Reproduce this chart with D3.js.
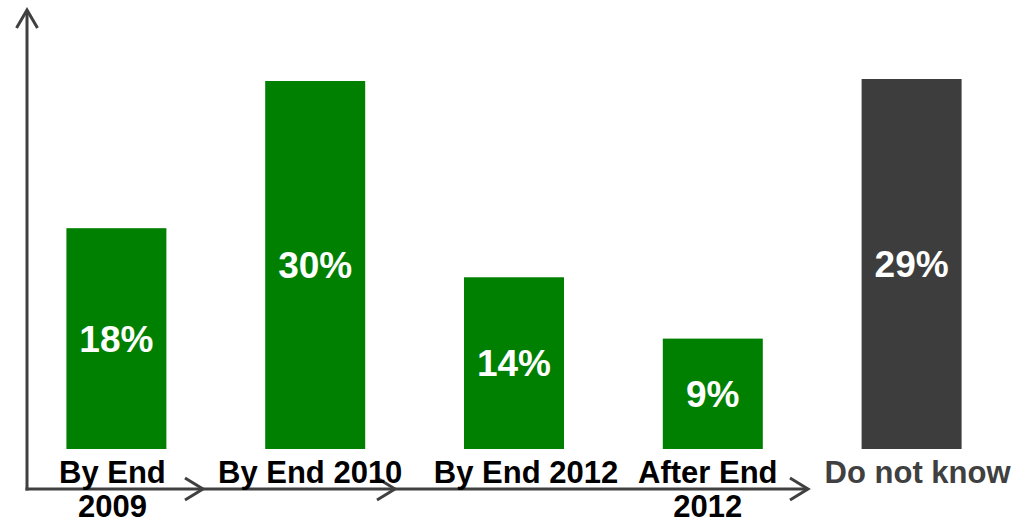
<html>
<head>
</head>
<body style="margin: 0 0 0 0;">
<svg id="chart"></svg>
<script src="https://cdnjs.cloudflare.com/ajax/libs/d3/7.8.5/d3.min.js"></script>
<script type="text/javascript">

// data
var categories = ["By End 2009", "By End 2010", "By End 2012", "After End 2012", "Do not know"]
var labelLines = [["By End", "2009"], ["By End 2010"], ["By End 2012"], ["After End", "2012"], ["Do not know"]]
var values = [18, 30, 14, 9, 29]
var kinds = ["date", "date", "date", "date", "unknown"]

var W = 1017, H = 524
var axisColor = "#404040"
var green = "#008000", gray = "#3d3d3d"
// the category text boxes sit slightly off the bar centres in the original
var labelNudge = [-4, -5, 12, -5, 6]

var svg = d3.select("#chart")
  .attr("width", W)
  .attr("height", H)
  .style("font-family", "'Liberation Sans', Arial, sans-serif")

var x = d3.scaleBand()
  .domain(categories)
  .range([17, 1011])
  .paddingInner(0.497)
  .paddingOuter(0.2485)

// the dated answers and "do not know" are scaled separately in the original
var y = d3.scaleLinear().domain([0, 30]).range([449, 81])
var yOther = d3.scaleLinear().domain([0, 29]).range([449, 79])
var yOf = function(i) { return kinds[i] === "unknown" ? yOther : y; }

var data = categories.map(function(c, i) {
  return {cat: c, v: values[i], kind: kinds[i], lines: labelLines[i], i: i}
})

// bars
svg.selectAll("rect.bar")
  .data(data)
  .enter().append("rect")
  .attr("class", "bar")
  .attr("x", function(d) { return x(d.cat); })
  .attr("width", x.bandwidth())
  .attr("y", function(d) { return yOf(d.i)(d.v); })
  .attr("height", function(d) { return yOf(d.i)(0) - yOf(d.i)(d.v); })
  .attr("fill", function(d) { return d.kind === "unknown" ? gray : green; })

// values inside bars
svg.selectAll("text.val")
  .data(data)
  .enter().append("text")
  .attr("class", "val")
  .attr("x", function(d) { return x(d.cat) + x.bandwidth() / 2; })
  .attr("y", function(d) { var s = yOf(d.i); return (s(d.v) + s(0)) / 2 + 13; })
  .attr("text-anchor", "middle")
  .attr("fill", "white")
  .attr("font-weight", "bold")
  .attr("font-size", 37)
  .text(function(d) { return d.v + "%"; })

// axes
var ax = 27, ay = 489
svg.append("line")
  .attr("x1", ax).attr("y1", ay + 1.5)
  .attr("x2", ax).attr("y2", 10)
  .attr("stroke", axisColor).attr("stroke-width", 3)
svg.append("path")
  .attr("d", "M" + (ax - 10.5) + ",28L" + ax + ",10L" + (ax + 10.5) + ",28")
  .attr("fill", "none").attr("stroke", axisColor).attr("stroke-width", 3)

svg.append("line")
  .attr("x1", ax - 1.5).attr("y1", ay)
  .attr("x2", 808).attr("y2", ay)
  .attr("stroke", axisColor).attr("stroke-width", 3)

var arrowTips = [203, 395, 808]
svg.selectAll("path.xarrow")
  .data(arrowTips)
  .enter().append("path")
  .attr("class", "xarrow")
  .attr("d", function(t) { return "M" + (t - 18) + "," + (ay - 11) + "L" + t + "," + ay + "L" + (t - 18) + "," + (ay + 11); })
  .attr("fill", "none").attr("stroke", axisColor).attr("stroke-width", 3)

// category labels
var cats = svg.selectAll("text.cat")
  .data(data)
  .enter().append("text")
  .attr("class", "cat")
  .attr("text-anchor", "middle")
  .attr("font-weight", "bold")
  .attr("font-size", 31)
  .attr("fill", function(d) { return d.kind === "unknown" ? axisColor : "black"; })

cats.selectAll("tspan")
  .data(function(d) {
    var c = x(d.cat) + x.bandwidth() / 2 + labelNudge[d.i]
    return d.lines.map(function(l) { return {t: l, c: c}; })
  })
  .enter().append("tspan")
  .attr("x", function(d) { return d.c; })
  .attr("y", function(d, j) { return 483 + j * 34; })
  .text(function(d) { return d.t; })

</script>
</body>
</html>
